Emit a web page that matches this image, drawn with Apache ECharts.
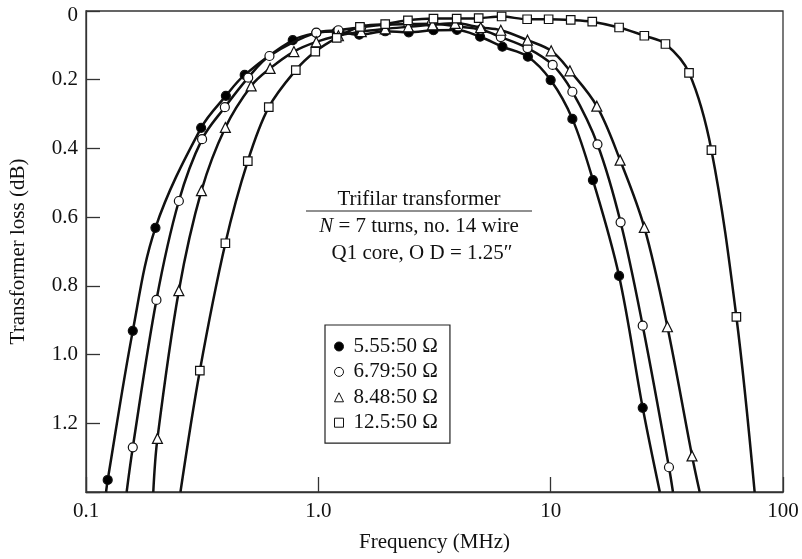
<!DOCTYPE html>
<html>
<head>
<meta charset="utf-8">
<script src="https://cdn.jsdelivr.net/npm/echarts@6/dist/echarts.min.js"></script>
<style>
html,body{margin:0;padding:0;background:#fff;}
#c{width:802px;height:559px;}
</style>
</head>
<body>
<div id="c"></div>
<script>
// ---- data ----
var seriesNames = ['5.55:50 \u03A9', '6.79:50 \u03A9', '8.48:50 \u03A9', '12.5:50 \u03A9'];

var freqA = [0.124, 0.159, 0.199, 0.313, 0.400, 0.482, 0.776, 0.98, 1.20, 1.50, 1.94, 2.45, 3.13, 3.95, 4.97, 6.2, 7.98, 10.0, 12.4, 15.2, 19.7, 24.9];
var lossA = [1.365, 0.931, 0.631, 0.340, 0.247, 0.186, 0.085, 0.064, 0.060, 0.069, 0.059, 0.062, 0.056, 0.055, 0.075, 0.104, 0.133, 0.201, 0.314, 0.492, 0.771, 1.155];
var endsA = [0.122, 29.5];

var freqB = [0.159, 0.201, 0.251, 0.316, 0.396, 0.499, 0.616, 0.98, 1.22, 1.53, 1.94, 2.44, 3.08, 4.0, 5.0, 6.1, 7.95, 10.2, 12.4, 15.9, 20.0, 24.9, 32.3];
var lossB = [1.270, 0.841, 0.553, 0.373, 0.280, 0.194, 0.131, 0.063, 0.056, 0.047, 0.040, 0.038, 0.037, 0.045, 0.054, 0.076, 0.108, 0.157, 0.235, 0.388, 0.615, 0.916, 1.328];
var endsB = [0.1496, 33.6];

var freqC = [0.203, 0.251, 0.314, 0.398, 0.514, 0.62, 0.785, 0.98, 1.22, 1.53, 1.94, 2.44, 3.1, 3.88, 5.0, 6.1, 7.95, 10.05, 12.1, 15.8, 19.9, 25.3, 31.8, 40.6];
var lossC = [1.244, 0.814, 0.523, 0.339, 0.218, 0.167, 0.118, 0.090, 0.072, 0.060, 0.052, 0.046, 0.040, 0.036, 0.048, 0.056, 0.085, 0.116, 0.174, 0.277, 0.434, 0.630, 0.919, 1.295];
var endsC = [0.1948, 43.8];

var freqD = [0.309, 0.398, 0.497, 0.612, 0.80, 0.97, 1.20, 1.51, 1.94, 2.43, 3.13, 3.94, 4.9, 6.15, 7.92, 9.8, 12.2, 15.1, 19.7, 25.3, 31.2, 39.4, 49.2, 63.0];
var lossD = [1.047, 0.676, 0.437, 0.280, 0.172, 0.118, 0.078, 0.046, 0.038, 0.027, 0.022, 0.022, 0.021, 0.016, 0.024, 0.024, 0.026, 0.031, 0.048, 0.072, 0.096, 0.180, 0.405, 0.890];
var endsD = [0.255, 75.5];

var lossAtEdge = 1.4;
var xTickLabels = ['0.1', '1.0', '10', '100'];
var yTickLabels = ['0', '0.2', '0.4', '0.6', '0.8', '1.0', '1.2', ''];

// ---- build ----
var FONT = 'Liberation Serif';
function buildData(freq, loss, ends) {
  var d = [{ value: [ends[0], lossAtEdge], symbol: 'none' }];
  for (var i = 0; i < freq.length; i++) d.push([freq[i], loss[i]]);
  d.push({ value: [ends[1], lossAtEdge], symbol: 'none' });
  return d;
}
var markerDefs = [
  { symbol: 'circle', fill: '#000', size: 9 },
  { symbol: 'circle', fill: '#fff', size: 9 },
  { symbol: 'triangle', fill: '#fff', size: 10 },
  { symbol: 'rect', fill: '#fff', size: 8.5 }
];
var allData = [
  buildData(freqA, lossA, endsA),
  buildData(freqB, lossB, endsB),
  buildData(freqC, lossC, endsC),
  buildData(freqD, lossD, endsD)
];
var series = allData.map(function (d, i) {
  var m = markerDefs[i];
  return {
    name: seriesNames[i],
    type: 'line',
    data: d,
    smooth: 0.35,
    symbol: m.symbol,
    symbolSize: m.size,
    showAllSymbol: true,
    lineStyle: { color: '#111', width: 2.5 },
    itemStyle: { color: m.fill, borderColor: '#111', borderWidth: 1.2 },
    emphasis: { disabled: true },
    z: 2 + i
  };
});

var chart = echarts.init(document.getElementById('c'), null, { renderer: 'canvas' });
chart.setOption({
  animation: false,
  backgroundColor: '#fff',
  textStyle: { fontFamily: FONT, color: '#111' },
  grid: { left: 86, right: 19, top: 11, bottom: 67, show: true, borderColor: '#333', borderWidth: 1.3,
          containLabel: false, outerBoundsMode: 'none' },
  xAxis: {
    type: 'log', logBase: 10, min: 0.1, max: 100, interval: 1,
    name: 'Frequency (MHz)', nameLocation: 'middle', nameGap: 40,
    nameTextStyle: { fontFamily: FONT, fontSize: 21, color: '#111', verticalAlign: 'top' },
    axisLine: { onZero: false, lineStyle: { color: '#333', width: 1.3 } },
    axisTick: { inside: true, length: 15, lineStyle: { color: '#333', width: 1.3 } },
    minorTick: { show: false },
    splitLine: { show: false },
    axisLabel: { margin: 9, fontFamily: FONT, fontSize: 21, color: '#111',
      formatter: function (v, idx) { return xTickLabels[idx] !== undefined ? xTickLabels[idx] : ''; } }
  },
  yAxis: {
    type: 'value', inverse: true, min: 0, max: 1.4, interval: 0.2,
    name: 'Transformer loss (dB)', nameLocation: 'middle', nameGap: 57, nameRotate: 90,
    nameTextStyle: { fontFamily: FONT, fontSize: 21, color: '#111' },
    axisLine: { show: true, onZero: false, lineStyle: { color: '#333', width: 1.3 } },
    axisTick: { show: true, inside: true, length: 14, lineStyle: { color: '#333', width: 1.3 } },
    splitLine: { show: false },
    axisLabel: { margin: 8, fontFamily: FONT, fontSize: 21, color: '#111',
      rich: { z: { fontFamily: FONT, fontSize: 21, color: '#111', padding: [8, 0, 0, 0] } },
      formatter: function (v, idx) {
        var t = yTickLabels[idx] !== undefined ? yTickLabels[idx] : '';
        return idx === 0 && t ? '{z|' + t + '}' : t;
      } }
  },
  legend: {
    orient: 'vertical', left: 325, top: 325,
    padding: [11, 12, 10, 9],
    itemGap: 4.4, itemWidth: 9, itemHeight: 9,
    borderColor: '#222', borderWidth: 1.2, backgroundColor: '#fff',
    selectedMode: false,
    textStyle: { fontFamily: FONT, fontSize: 21, color: '#111', padding: [0, 0, 0, 5] },
    data: seriesNames.map(function (n, i) {
      var m = markerDefs[i];
      return { name: n, icon: m.symbol, itemStyle: { color: m.fill, borderColor: '#111', borderWidth: 1 } };
    })
  },
  graphic: [
    { type: 'text', x: 419, y: 199, silent: true,
      style: { text: 'Trifilar transformer', font: '21px "Liberation Serif"', fill: '#111', align: 'center', verticalAlign: 'middle' } },
    { type: 'line', silent: true, shape: { x1: 306, y1: 211, x2: 532, y2: 211 }, style: { stroke: '#222', lineWidth: 1.2 } },
    { type: 'text', x: 419, y: 226, silent: true,
      style: { text: '{i|N} = 7 turns, no. 14 wire', font: '21px "Liberation Serif"', fill: '#111', align: 'center', verticalAlign: 'middle',
        rich: { i: { fontFamily: FONT, fontSize: 21, fontStyle: 'italic', fill: '#111' } } } },
    { type: 'text', x: 422, y: 253, silent: true,
      style: { text: 'Q1 core, O D = 1.25\u2033', font: '21px "Liberation Serif"', fill: '#111', align: 'center', verticalAlign: 'middle' } }
  ],
  series: series
});
</script>
</body>
</html>
